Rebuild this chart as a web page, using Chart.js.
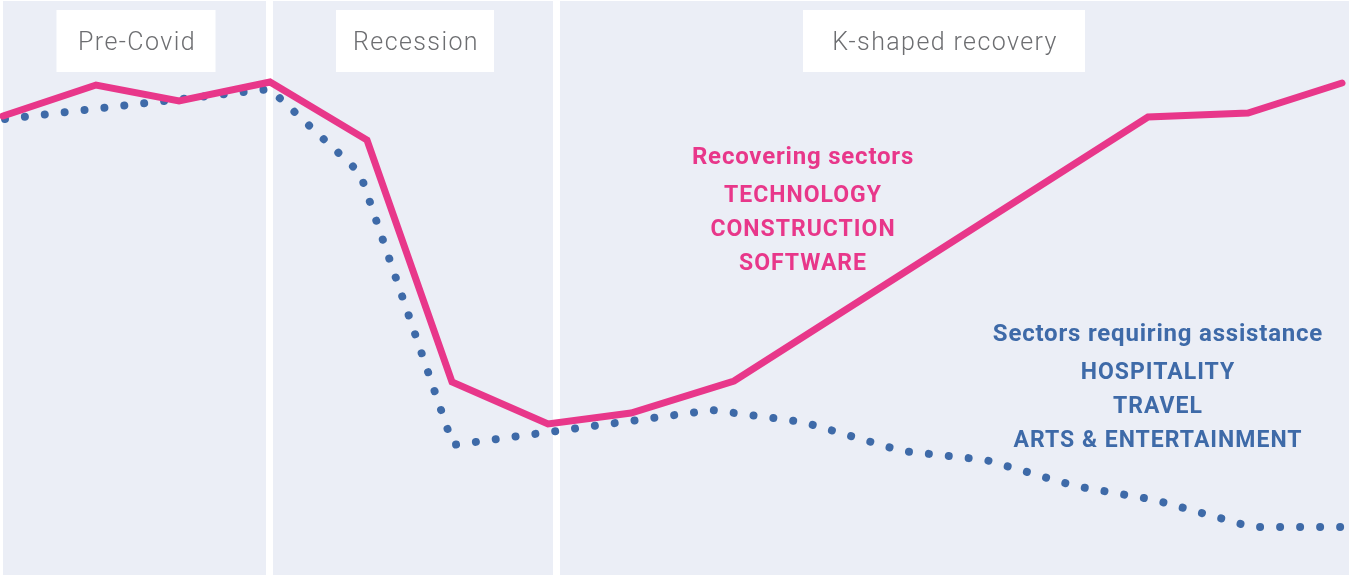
<!DOCTYPE HTML>
<html>
<head>
  <title>K-shaped recovery</title>
  <meta name="viewport" content="width=device-width, initial-scale=1">
  <script src="https://cdn.jsdelivr.net/npm/chart.js"></script>
  <style>
    body { margin: 0; padding: 0; background: #fff; }
    .wrap { width: 1349px; height: 575px; position: relative; }
  </style>
</head>
<body>
  <div class="wrap"><canvas id="chart"></canvas></div>
  <script>
    // time axis (arbitrary units) and activity index
    const recoveringX = [3, 96, 179, 270, 367, 452, 548, 631, 734, 1148, 1248, 1342];
    const recoveringY = [459, 490, 474, 493, 435, 193, 151, 162, 194, 458, 462, 492];
    const assistanceX = [5, 270, 360, 453, 712, 803, 902, 986, 1075, 1155, 1252, 1342];
    const assistanceY = [456, 486, 402, 130, 165, 153, 124, 115, 89, 75, 48, 48];

    const phaseNames = ['Pre-Covid', 'Recession', 'K-shaped recovery'];
    const phaseEdges = [0, 270, 557, 1349];
    const phaseLabelAt = [136, 415, 944];

    const recoveringTitle = 'Recovering sectors';
    const recoveringSectors = ['TECHNOLOGY', 'CONSTRUCTION', 'SOFTWARE'];
    const assistanceTitle = 'Sectors requiring assistance';
    const assistanceSectors = ['HOSPITALITY', 'TRAVEL', 'ARTS & ENTERTAINMENT'];

    const PINK = '#e8378a';
    const BLUE = '#3e6aa8';
    const PANEL = '#ebeef6';
    const FONT = 'Roboto, "DejaVu Sans", sans-serif';
    const BOX_W = [159, 158, 282];

    const toPoints = (xs, ys) => xs.map((x, i) => ({ x: x, y: ys[i] }));

    // background panels and phase labels
    const phasePlugin = {
      id: 'phases',
      beforeDatasetsDraw(chart) {
        const ctx = chart.ctx;
        const xs = chart.scales.x;
        ctx.save();
        for (let i = 0; i < phaseNames.length; i++) {
          const left = xs.getPixelForValue(phaseEdges[i]) + 3;
          const right = xs.getPixelForValue(phaseEdges[i + 1]) - (i === phaseNames.length - 1 ? 0 : 4);
          ctx.fillStyle = PANEL;
          ctx.fillRect(left, 1, right - left, 574);

          const cx = xs.getPixelForValue(phaseLabelAt[i]);
          ctx.fillStyle = '#ffffff';
          ctx.fillRect(cx - BOX_W[i] / 2, 10, BOX_W[i], 62);
          ctx.font = '300 25px ' + FONT;
          ctx.letterSpacing = '1.4px';
          ctx.fillStyle = '#6d6e71';
          ctx.textAlign = 'center';
          ctx.textBaseline = 'middle';
          ctx.fillText(phaseNames[i], cx + 1, 44);
        }
        ctx.restore();
      },
      afterDatasetsDraw(chart) {
        const ctx = chart.ctx;
        ctx.save();
        ctx.textAlign = 'center';
        ctx.textBaseline = 'middle';

        ctx.fillStyle = PINK;
        ctx.font = 'bold 24px ' + FONT;
        ctx.letterSpacing = '0.8px';
        ctx.fillText(recoveringTitle, 803, 158);
        ctx.font = 'bold 23px ' + FONT;
        ctx.letterSpacing = '1px';
        recoveringSectors.forEach((s, i) => ctx.fillText(s, 803, 196 + i * 34));

        ctx.fillStyle = BLUE;
        ctx.font = 'bold 24px ' + FONT;
        ctx.letterSpacing = '0.8px';
        ctx.fillText(assistanceTitle, 1158, 335);
        ctx.font = 'bold 23px ' + FONT;
        ctx.letterSpacing = '1px';
        assistanceSectors.forEach((s, i) => ctx.fillText(s, 1158, 373 + i * 34));
        ctx.restore();
      }
    };

    new Chart(document.getElementById('chart'), {
      type: 'line',
      data: {
        datasets: [
          {
            label: recoveringTitle,
            data: toPoints(recoveringX, recoveringY),
            borderColor: PINK,
            borderWidth: 7,
            borderJoinStyle: 'miter',
            borderCapStyle: 'round',
            pointRadius: 0,
            tension: 0,
            order: 0
          },
          {
            label: assistanceTitle,
            data: toPoints(assistanceX, assistanceY),
            borderColor: BLUE,
            borderWidth: 8,
            borderDash: [0.01, 20],
            borderCapStyle: 'round',
            pointRadius: 0,
            tension: 0,
            order: 1
          }
        ]
      },
      options: {
        responsive: true,
        maintainAspectRatio: false,
        animation: false,
        layout: { padding: 0 },
        plugins: { legend: { display: false }, tooltip: { enabled: false } },
        scales: {
          x: { type: 'linear', min: 0, max: 1349, display: false },
          y: { min: 0, max: 575, display: false }
        }
      },
      plugins: [phasePlugin]
    });
  </script>
</body>
</html>
